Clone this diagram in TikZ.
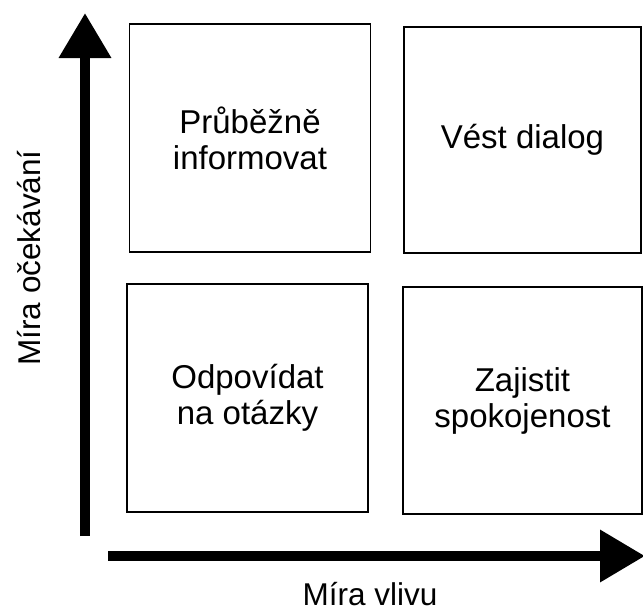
\documentclass[tikz,border=0pt]{standalone}
\usepackage{fontspec}
\setmainfont{Liberation Sans}
\usetikzlibrary{arrows.meta}
\begin{document}
\begin{tikzpicture}[x=1pt,y=-1pt,
  quad/.style={draw=black,line width=1.5pt,align=center,inner sep=0pt,
    font=\fontsize{33}{36}\selectfont},
  axislabel/.style={font=\fontsize{31.5}{36}\selectfont,inner sep=0pt},
  axis/.style={line width=10pt,-{Triangle[length=45pt,width=50pt]}}]
  \useasboundingbox (0,0) rectangle (643,614);
  % four quadrants
  \node[quad,minimum width=241pt,minimum height=228pt] (inform) at (250,138) {Průběžně\\informovat};
  \node[quad,line width=2.8pt,minimum width=237pt,minimum height=226pt] (dialog) at (522.5,140) {Vést dialog};
  \node[quad,minimum width=241pt,minimum height=228pt] (answer) at (247.5,398) {Odpovídat\\na otázky};
  \node[quad,minimum width=239pt,minimum height=227pt] (satisfy) at (522.5,400.5) {Zajistit\\spokojenost};
  % axes
  \coordinate (yfoot) at (85,536);
  \coordinate (ytip) at (85,13);
  \coordinate (xfoot) at (108,556);
  \coordinate (xtip) at (645,556);
  \draw[axis] (yfoot) -- (ytip);
  \draw[axis] (xfoot) -- (xtip);
  % axis labels
  \node[axislabel,rotate=90,anchor=base] (ylab) at (40,258) {Míra očekávání};
  \node[axislabel,anchor=base] (xlab) at (370,605) {Míra vlivu};
\end{tikzpicture}
\end{document}
